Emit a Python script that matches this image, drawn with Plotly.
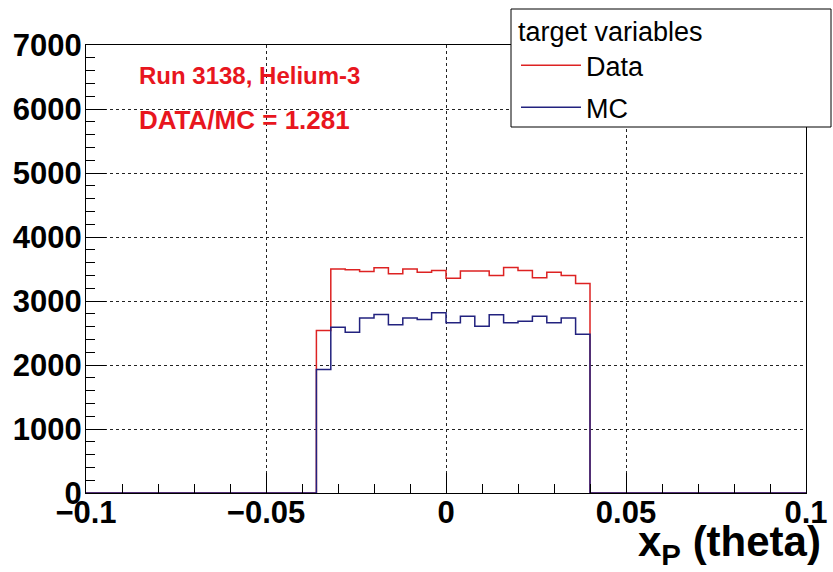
import plotly.graph_objects as go

# ---- data ----
bin_low_edges = [-0.036, -0.032, -0.028, -0.024, -0.020, -0.016, -0.012, -0.008, -0.004, 0.000,
                 0.004, 0.008, 0.012, 0.016, 0.020, 0.024, 0.028, 0.032, 0.036]
last_upper_edge = 0.040
x_range = [-0.1, 0.1]

data_counts = [2540, 3500, 3490, 3460, 3520, 3425, 3500, 3450, 3475, 3355,
               3470, 3470, 3400, 3525, 3475, 3365, 3450, 3400, 3275]
mc_counts = [1930, 2590, 2510, 2735, 2790, 2630, 2735, 2710, 2815, 2660,
             2760, 2605, 2785, 2660, 2685, 2760, 2660, 2735, 2480]

x_ticks = [-0.1, -0.05, 0, 0.05, 0.1]
x_tick_labels = ["\u22120.1", "\u22120.05", "0", "0.05", "0.1"]
y_ticks = [0, 1000, 2000, 3000, 4000, 5000, 6000, 7000]

label_run = "Run 3138, Helium-3"
label_ratio = "DATA/MC = 1.281"
legend_title = "target variables"


def step_xy(counts):
    xs = [x_range[0]] + bin_low_edges + [last_upper_edge, x_range[1]]
    ys = [0] + list(counts) + [0, 0]
    return xs, ys


RED = "#dd2222"
BLUE = "#22227f"
FONT = "Liberation Sans"

fig = go.Figure()
xd, yd = step_xy(data_counts)
xm, ym = step_xy(mc_counts)
fig.add_trace(go.Scatter(x=xd, y=yd, mode="lines", line=dict(shape="hv", color=RED, width=1.5),
                         name="Data", legendgroup="data"))
fig.add_trace(go.Scatter(x=xm, y=ym, mode="lines", line=dict(shape="hv", color=BLUE, width=1.5),
                         name="MC", legendgroup="mc"))

axis_common = dict(
    showline=True, linecolor="black", linewidth=1, mirror=True,
    ticks="inside", tickcolor="black", tickwidth=1,
    showgrid=True, gridcolor="#222222", griddash="dot", gridwidth=1,
    zeroline=False, automargin=False,
    tickfont=dict(family=FONT, size=31, color="black", weight="bold"),
)

fig.update_xaxes(range=x_range, tickvals=x_ticks, ticktext=x_tick_labels, ticklen=20,
                 ticklabelstandoff=-8,
                 minor=dict(ticks="inside", ticklen=9, dtick=0.01, tick0=-0.1, tickcolor="black",
                            showgrid=False),
                 **axis_common)
fig.update_yaxes(range=[0, 7000], tickvals=y_ticks, ticklen=20,
                 ticklabelstandoff=-3,
                 minor=dict(ticks="inside", ticklen=9, dtick=200, tick0=0, tickcolor="black",
                            showgrid=False),
                 **axis_common)

W, H = 833, 572
ml, mr, mt, mb = 86, 27, 45, 79
pw, ph = W - ml - mr, H - mt - mb


def px_x(p):
    return (p - ml) / pw


def px_y(p):
    return (H - mb - p) / ph


fig.add_shape(type="rect", xref="paper", yref="paper",
              x0=px_x(511), x1=px_x(831), y0=px_y(127), y1=px_y(9),
              fillcolor="white", line=dict(color="black", width=1), layer="above")

fig.add_annotation(text=label_run, xref="paper", yref="paper", x=px_x(137), y=px_y(75),
                   xanchor="left", yanchor="middle", showarrow=False,
                   font=dict(family=FONT, size=24, color="#e8161e", weight="bold"))
fig.add_annotation(text=label_ratio, xref="paper", yref="paper", x=px_x(137), y=px_y(120),
                   xanchor="left", yanchor="middle", showarrow=False,
                   font=dict(family=FONT, size=26, color="#e8161e", weight="bold"))
fig.add_annotation(text="x<sub>P</sub> (theta)", xref="paper", yref="paper",
                   x=px_x(823), y=px_y(544), xanchor="right", yanchor="middle", showarrow=False,
                   font=dict(family=FONT, size=42, color="black", weight="bold"))

fig.update_layout(
    width=W, height=H,
    margin=dict(l=ml, r=mr, t=mt, b=mb, pad=0, autoexpand=False),
    paper_bgcolor="white", plot_bgcolor="white",
    showlegend=True,
    legend=dict(
        title=dict(text=legend_title, font=dict(family=FONT, size=27, color="black")),
        font=dict(family=FONT, size=27, color="black"),
        xref="container", yref="container",
        x=516 / W, y=1 - 6 / H, xanchor="left", yanchor="top",
        bgcolor="rgba(0,0,0,0)", borderwidth=0,
        traceorder="grouped", tracegroupgap=4, itemwidth=60,
    ),
)

fig.write_html("out.html")
